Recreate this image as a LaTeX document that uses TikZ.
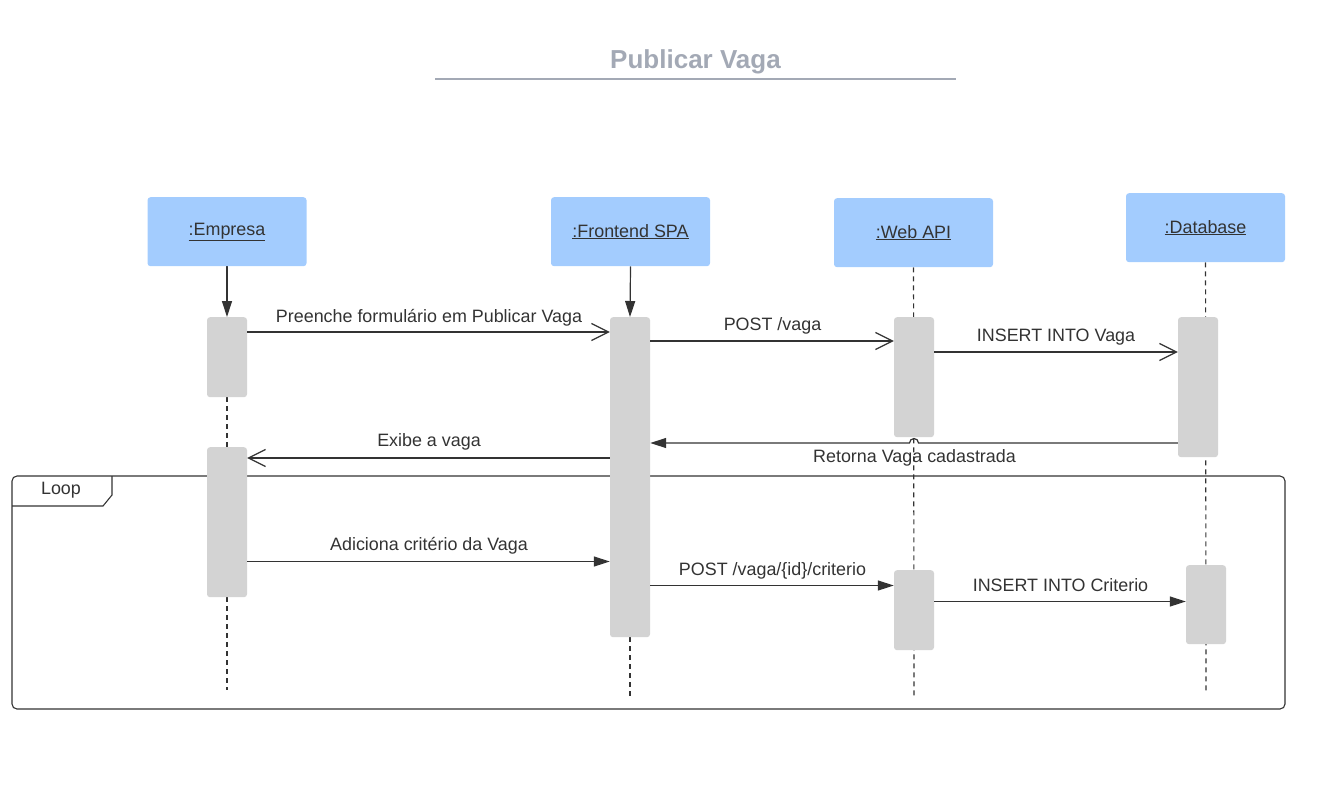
\documentclass[tikz,border=0pt]{standalone}
\usepackage{fontspec}
\setmainfont{Liberation Sans}
\usetikzlibrary{arrows.meta,backgrounds}
\definecolor{ink}{HTML}{333333}
\definecolor{head}{HTML}{A3CCFE}
\definecolor{act}{HTML}{D3D3D3}
\definecolor{ttl}{HTML}{A3A9B5}
\begin{document}
\begin{tikzpicture}[x=1pt,y=-1pt,
  lbl/.style={font=\fontsize{17.9}{20}\selectfont, text=ink, anchor=base, inner sep=0pt},
  headbox/.style={fill=head, rounded corners=3pt, minimum width=159pt, minimum height=69pt, inner sep=0pt, anchor=north, font=\fontsize{17.9}{20}\selectfont, text=ink},
  actbar/.style={fill=act, rounded corners=3pt, minimum width=40pt, inner sep=0pt, anchor=north},
  life/.style={draw=ink, line width=1.1pt, dash pattern=on 5pt off 4pt},
  solidlife/.style={draw=ink, line width=1.2pt, -{Triangle[length=16pt,width=10pt]}},
  opn/.style={draw=ink, line width=1.2pt, -{Straight Barb[length=17pt,width=17pt]}},
  fil/.style={draw=ink, line width=1.2pt, -{Triangle[length=16pt,width=10pt]}},
  framebox/.style={draw=ink, line width=1.1pt}
]
\useasboundingbox (0,0) rectangle (1321,804);

% title
\node[font=\bfseries\fontsize{26}{30}\selectfont, text=ttl, anchor=base, inner sep=0pt] (title) at (695.5,68) {Publicar Vaga};
\coordinate (tl) at (435,79);
\coordinate (tr) at (956,79);
\draw[ttl, line width=2pt] (tl) -- (tr);

% heads
\node[headbox] (emp) at (227,197) {\underline{:Empresa}};
\node[headbox] (fsp) at (630.5,197) {\underline{:Frontend SPA}};
\node[headbox] (api) at (913.5,198) {\underline{:Web API}};
\node[headbox] (db)  at (1205.5,193) {\underline{:Database}};

% lifeline ends
\coordinate (empend) at (227,690);
\coordinate (fspend) at (630,697);
\coordinate (apiend) at (914,697);
\coordinate (dbend) at (1206,692);

% activation bars
\node[actbar, minimum height=80pt]  (ea1) at (227,317) {};
\node[actbar, minimum height=150pt] (ea2) at (227,447) {};
\node[actbar, minimum height=320pt] (fa1) at (630,317) {};
\node[actbar, minimum height=120pt] (wa1) at (914,317) {};
\node[actbar, minimum height=80pt]  (wa2) at (914,570) {};
\node[actbar, minimum height=140pt] (da1) at (1198,317) {};
\node[actbar, minimum height=79pt]  (da2) at (1206,565) {};

\begin{scope}[on background layer]
% lifelines
\draw[solidlife] (emp.south) -- (ea1.north);
\draw[life] (ea1.south) -- (ea2.north);
\draw[life] (ea2.south) -- (empend);
\draw[solidlife] (fsp.south) -- (fa1.north);
\draw[life] (fa1.south) -- (fspend);
\draw[life] (api.south) -- (apiend);
\draw[life] (db.south) -- (dbend);
% loop frame
\draw[framebox, rounded corners=5pt] (12,476) rectangle (1285,709);
\coordinate (lp1) at (12,506);
\coordinate (lp2) at (103,506);
\coordinate (lp3) at (112,495);
\coordinate (lp4) at (112,476);
\draw[framebox] (lp1) -- (lp2) -- (lp3) -- (lp4);
\end{scope}
\node[lbl] (looplbl) at (61,494) {Loop};

% messages
\draw[opn] (ea1.east |- 0,332) -- (fa1.west |- 0,332);
\node[lbl] (m1) at (429,322) {Preenche formulário em Publicar Vaga};

\draw[opn] (fa1.east |- 0,341) -- (wa1.west |- 0,341);
\node[lbl] (m2) at (772.5,330) {POST /vaga};

\draw[opn] (wa1.east |- 0,352) -- (da1.west |- 0,352);
\node[lbl] (m3) at (1056,341) {INSERT INTO Vaga};

\draw[fil] (da1.west |- 0,443) -- (918.5,443) arc (0:-180:4.5) -- (fa1.east |- 0,443);
\node[lbl] (m4) at (914.5,462) {Retorna Vaga cadastrada};

\draw[opn] (fa1.west |- 0,458) -- (ea2.east |- 0,458);
\node[lbl] (m5) at (429,446.5) {Exibe a vaga};

\draw[fil] (ea2.east |- 0,561.5) -- (fa1.west |- 0,561.5);
\node[lbl] (m6) at (429,550.5) {Adiciona critério da Vaga};

\draw[fil] (fa1.east |- 0,585.5) -- (wa2.west |- 0,585.5);
\node[lbl] (m7) at (772.5,575) {POST /vaga/\{id\}/criterio};

\draw[fil] (wa2.east |- 0,601.5) -- (da2.west |- 0,601.5);
\node[lbl] (m8) at (1060.5,591.5) {INSERT INTO Criterio};
\end{tikzpicture}
\end{document}
